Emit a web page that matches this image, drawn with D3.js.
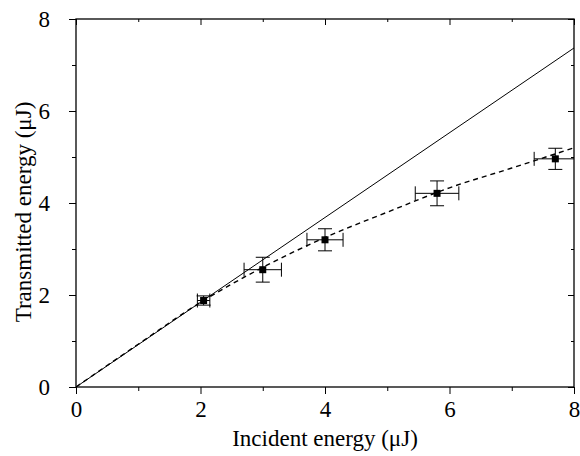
<!DOCTYPE html>
<html>
<head>
<meta charset="utf-8">
<script src="https://cdn.jsdelivr.net/npm/d3@7"></script>
</head>
<body style="margin:0">
<svg id="chart" width="580" height="456" font-family="Liberation Serif"></svg>
<script>
// Data
const incident = [2.05, 3.0, 4.0, 5.8, 7.7];
const transmitted = [1.88, 2.55, 3.2, 4.21, 4.96];
const xErr = [0.1, 0.3, 0.29, 0.35, 0.34];
const yErr = [0.1, 0.27, 0.24, 0.27, 0.23];
const linearX = [0, 8];
const linearY = [0, 7.37];
const fitX = [0, 1, 2, 3, 4, 5, 6, 7, 8];
const fitY = [0, 0.93, 1.84, 2.6, 3.25, 3.8, 4.33, 4.76, 5.2];
const majorTicks = [0, 2, 4, 6, 8];
const minorTicks = [1, 3, 5, 7];
const xTitle = "Incident energy (\u03bcJ)";
const yTitle = "Transmitted energy (\u03bcJ)";

const svg = d3.select("#chart");
const L = 76, R = 574, T = 19, B = 387;
const x = d3.scaleLinear().domain([0, 8]).range([L, R]);
const y = d3.scaleLinear().domain([0, 8]).range([B, T]);

svg.append("defs").append("clipPath").attr("id", "plotclip")
  .append("rect").attr("x", L).attr("y", T).attr("width", R - L).attr("height", B - T);

const g = svg.append("g");

const fontSize = 23;
function styleAxis(sel) {
  sel.attr("font-family", "Liberation Serif").attr("font-size", fontSize);
  sel.select(".domain").remove();
  sel.selectAll("line").attr("stroke", "#000").attr("stroke-width", 1);
  sel.selectAll("text").attr("font-family", "Liberation Serif").attr("font-size", fontSize).attr("fill", "#000");
}
g.append("g").attr("transform", `translate(0,${B})`)
  .call(d3.axisBottom(x).tickValues(majorTicks).tickSize(7).tickPadding(7).tickFormat(d3.format("d"))).call(styleAxis);
g.append("g").attr("transform", `translate(0,${B})`)
  .call(d3.axisBottom(x).tickValues(minorTicks).tickSize(4).tickFormat("")).call(styleAxis);
g.append("g").attr("transform", `translate(${L},0)`)
  .call(d3.axisLeft(y).tickValues(majorTicks).tickSize(7).tickPadding(19).tickFormat(d3.format("d"))).call(styleAxis);
g.append("g").attr("transform", `translate(${L},0)`)
  .call(d3.axisLeft(y).tickValues(minorTicks).tickSize(4).tickFormat("")).call(styleAxis);
// mirrored inward ticks top/right
g.append("g").attr("transform", `translate(0,${T})`)
  .call(d3.axisBottom(x).tickValues(majorTicks).tickSize(6).tickFormat("")).call(styleAxis);
g.append("g").attr("transform", `translate(0,${T})`)
  .call(d3.axisBottom(x).tickValues(minorTicks).tickSize(3).tickFormat("")).call(styleAxis);
g.append("g").attr("transform", `translate(${R},0)`)
  .call(d3.axisLeft(y).tickValues(majorTicks).tickSize(6).tickFormat("")).call(styleAxis);
g.append("g").attr("transform", `translate(${R},0)`)
  .call(d3.axisLeft(y).tickValues(minorTicks).tickSize(3).tickFormat("")).call(styleAxis);

// Frame
g.append("rect").attr("x", L).attr("y", T).attr("width", R - L).attr("height", B - T)
  .attr("fill", "none").attr("stroke", "#000").attr("stroke-width", 1.3);

const plot = g.append("g").attr("clip-path", "url(#plotclip)");

// Lines
const lineGen = d3.line().x(d => x(d[0])).y(d => y(d[1]));
plot.append("path").datum(linearX.map((v, i) => [v, linearY[i]]))
  .attr("d", lineGen).attr("fill", "none").attr("stroke", "#000").attr("stroke-width", 1);
plot.append("path").datum(fitX.map((v, i) => [v, fitY[i]]))
  .attr("d", d3.line().x(d => x(d[0])).y(d => y(d[1])).curve(d3.curveMonotoneX))
  .attr("fill", "none").attr("stroke", "#000").attr("stroke-width", 1.4).attr("stroke-dasharray", "5,4");

// Error bars
const pts = incident.map((v, i) => ({x: v, y: transmitted[i], ex: xErr[i], ey: yErr[i]}));
const cap = 7;
const eb = plot.append("g").attr("stroke", "#000").attr("stroke-width", 1);
pts.forEach(p => {
  const cx = x(p.x), cy = y(p.y);
  const x0 = x(p.x - p.ex), x1 = x(p.x + p.ex);
  const y0 = y(p.y - p.ey), y1 = y(p.y + p.ey);
  eb.append("line").attr("x1", x0).attr("x2", x1).attr("y1", cy).attr("y2", cy);
  eb.append("line").attr("x1", x0).attr("x2", x0).attr("y1", cy - cap).attr("y2", cy + cap);
  eb.append("line").attr("x1", x1).attr("x2", x1).attr("y1", cy - cap).attr("y2", cy + cap);
  eb.append("line").attr("x1", cx).attr("x2", cx).attr("y1", y0).attr("y2", y1);
  eb.append("line").attr("x1", cx - cap).attr("x2", cx + cap).attr("y1", y0).attr("y2", y0);
  eb.append("line").attr("x1", cx - cap).attr("x2", cx + cap).attr("y1", y1).attr("y2", y1);
});
// Markers
plot.selectAll("rect.pt").data(pts).enter().append("rect").attr("class", "pt")
  .attr("x", d => x(d.x) - 3.5).attr("y", d => y(d.y) - 3.5)
  .attr("width", 7).attr("height", 7).attr("fill", "#000");

// Titles
svg.append("text").attr("x", (L + R) / 2).attr("y", 446).attr("text-anchor", "middle")
  .attr("font-family", "Liberation Serif").attr("font-size", fontSize).attr("fill", "#000").text(xTitle);
svg.append("text").attr("transform", `translate(31,212) rotate(-90)`)
  .attr("text-anchor", "middle").attr("font-family", "Liberation Serif").attr("font-size", fontSize)
  .attr("fill", "#000").text(yTitle);
</script>
</body>
</html>
